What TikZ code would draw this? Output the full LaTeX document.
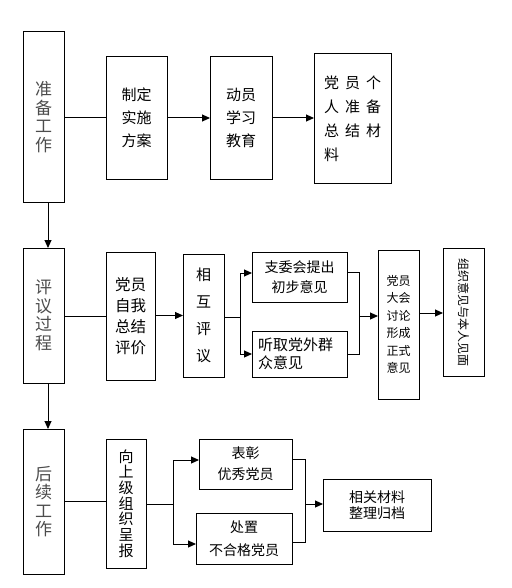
\documentclass[tikz,border=0pt]{standalone}
\usepackage{fontspec}
\usepackage{graphicx}
\setmainfont{Noto Sans CJK SC}
\usetikzlibrary{arrows.meta}
\begin{document}
\begin{tikzpicture}[x=1pt,y=-1pt,
 box/.style={draw,line width=1pt,inner sep=0pt,outer sep=0pt,anchor=north west,align=center},
 stage/.style={box,text=black!70,font=\fontsize{17}{18.5}\selectfont},
 con/.style={line width=1pt},
 arr/.style={line width=1pt,-{Triangle[length=8pt,width=7pt]}},
]
\useasboundingbox (0,0) rectangle (511,588);
% row 1
\node[stage,minimum width=41pt,minimum height=170pt] (prep) at (23,32) {准\\备\\工\\作};
\node[box,minimum width=61pt,minimum height=122pt,font=\fontsize{15}{23}\selectfont] (plan) at (106,57) {制定\\实施\\方案};
\node[box,minimum width=62pt,minimum height=122pt,font=\fontsize{15}{23}\selectfont] (mob) at (210,57) {动员\\学习\\教育};
\node[box,minimum width=77pt,minimum height=129pt,align=left,font=\fontsize{15}{24}\selectfont] (mat) at (314,54) {党\hspace{6pt}员\hspace{6pt}个\\人\hspace{6pt}准\hspace{6pt}备\\总\hspace{6pt}结\hspace{6pt}材\\料};
% row 2
\node[stage,minimum width=41pt,minimum height=135pt] (eval) at (23,248) {评\\议\\过\\程};
\node[box,minimum width=49pt,minimum height=128pt,font=\fontsize{15.5}{21}\selectfont] (self) at (106,252) {党员\\自我\\总结\\评价};
\node[box,minimum width=41pt,minimum height=123pt,font=\fontsize{15}{27}\selectfont] (mutual) at (183,254) {相\\互\\评\\议};
\node[box,minimum width=95pt,minimum height=50pt,font=\fontsize{14}{20}\selectfont] (zwh) at (252,252) {支委会提出\\初步意见};
\node[box,minimum width=95pt,minimum height=46pt,text width=83pt,align=left,font=\fontsize{15}{18}\selectfont] (tq) at (252,331) {听取党外群\\众意见};
\node[box,minimum width=41pt,minimum height=149pt,font=\fontsize{12}{17.5}\selectfont] (dahui) at (378,250) {党员\\大会\\讨论\\形成\\正式\\意见};
\node[box,minimum width=41pt,minimum height=128pt,font=\fontsize{12}{12}\selectfont] (zz) at (443,248) {\rotatebox{-90}{组织意见与本人见面}};
% row 3
\node[stage,minimum width=41pt,minimum height=145pt] (after) at (23,429) {后\\续\\工\\作};
\node[box,minimum width=40pt,minimum height=129pt,font=\fontsize{15}{15.7}\selectfont] (report) at (106,439) {向\\上\\级\\组\\织\\呈\\报};
\node[box,minimum width=93pt,minimum height=50pt,font=\fontsize{14}{21}\selectfont] (praise) at (199,439) {表彰\\优秀党员};
\node[box,minimum width=96pt,minimum height=51pt,font=\fontsize{14}{23}\selectfont] (punish) at (196,513) {处置\\不合格党员};
\node[box,minimum width=108pt,minimum height=52pt,font=\fontsize{14}{15.5}\selectfont] (archive) at (323,479) {相关材料\\整理归档};
% connectors row 1
\draw[con] (plan.west -| prep.east) -- (plan.west);
\draw[arr] (plan.east) -- (mob.west);
\draw[arr] (mob.east) -- (mob.east -| mat.west);
\draw[arr] ([xshift=4.5pt]prep.south) -- ([xshift=4.5pt]eval.north);
% row 2
\draw[con] (eval.east |- self.west) -- (self.west);
\draw[arr] (self.east |- mutual.west) -- (mutual.west);
\coordinate (b1) at (240,317);
\draw[con] (mutual.east |- b1) -- (b1);
\draw[arr] (b1) |- ([yshift=4pt]zwh.west);
\draw[arr] (b1) |- (tq.west);
\coordinate (j1) at (359,316);
\draw[con] ([yshift=5pt]zwh.east) -| (j1 |- tq.east) -- (tq.east);
\draw[arr] (j1) -- (j1 -| dahui.west);
\coordinate (j2) at (430,313);
\draw[arr] (dahui.east |- j2) -- (zz.west |- j2);
\draw[arr] ([xshift=4.5pt]eval.south) -- ([xshift=4.5pt]after.north);
% row 3
\draw[con] (after.east) -- (after.east -| report.west);
\coordinate (b2) at (173,504);
\draw[con] (report.east |- b2) -- (b2);
\draw[arr] (b2) |- ([yshift=4pt]praise.west);
\draw[arr] (b2) |- ([yshift=-5.5pt]punish.west);
\coordinate (j3) at (305,504);
\coordinate (pe) at ([yshift=-3.5pt]punish.east);
\draw[con] ([yshift=5pt]praise.east) -| (pe -| j3) -- (pe);
\draw[arr] (j3) -- (j3 -| archive.west);
\end{tikzpicture}
\end{document}
